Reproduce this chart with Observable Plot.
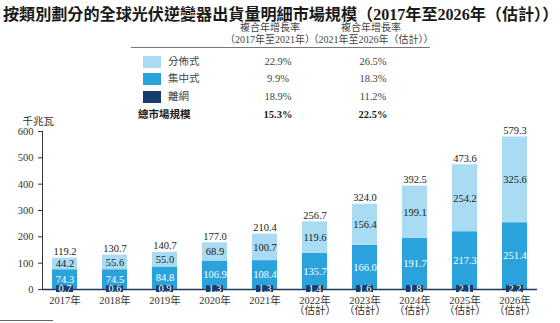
<!DOCTYPE html>
<html>
<head>
<meta charset="utf-8">
<script src="https://cdn.jsdelivr.net/npm/d3@7"></script>
<script src="https://cdn.jsdelivr.net/npm/@observablehq/plot@0.6"></script>
<style>
  html, body { margin: 0; padding: 0; background: #fff; }
  body { width: 560px; height: 323px; overflow: hidden; position: relative;
         font-family: "Liberation Serif", "Noto Sans CJK TC", serif; color: #333; }
  #header { position: relative; height: 110px; }
  .abs { position: absolute; white-space: nowrap; line-height: 1; }
  #title { left: 3px; top: 7px; font-size: 16.1px; font-weight: bold; color: #1a1a1a;
           font-family: "Liberation Serif", "Noto Sans CJK TC", serif; }
  .hdr { font-size: 10px; color: #444; transform: translate(-50%, -50%); }
  .cell { font-size: 10.5px; color: #444; transform: translate(-50%, -50%); }
  .lab { font-size: 10.5px; color: #444; transform: translateY(-50%); }
  .sw { width: 18px; height: 12px; transform: translateY(-50%); }
  .bold { font-weight: bold; color: #1a1a1a; }
</style>
</head>
<body>
<div id="header"></div>
<div id="chart"></div>
<script>
// ---- data ----
const years = ["2017","2018","2019","2020","2021","2022","2023","2024","2025","2026"];
const distributed = [44.2,55.6,55.0,68.9,100.7,119.6,156.4,199.1,254.2,325.6];
const centralized = [74.3,74.5,84.8,106.9,108.4,135.7,166.0,191.7,217.3,251.4];
const offgrid = [0.7,0.6,0.9,1.3,1.3,1.4,1.6,1.8,2.1,2.2];
const totals = [119.2,130.7,140.7,177.0,210.4,256.7,324.0,392.5,473.6,579.3];
const seriesNames = ["離網","集中式","分佈式"];
const seriesColors = ["#173d6b","#2aa3dc","#a9dcf3"];
const yTicks = [0,100,200,300,400,500,600];
const cagrHeaders = [["複合年增長率","（2017年至2021年）"],["複合年增長率","（2021年至2026年（估計））"]];
const legendRows = [
  {name:"分佈式", color:"#a9dcf3", c1:"22.9%", c2:"26.5%"},
  {name:"集中式", color:"#2aa3dc", c1:"9.9%", c2:"18.3%"},
  {name:"離網", color:"#173d6b", c1:"18.9%", c2:"11.2%"},
  {name:"總市場規模", color:null, c1:"15.3%", c2:"22.5%"}
];
const title = "按類別劃分的全球光伏逆變器出貨量明細市場規模（2017年至2026年（估計））";
const unitLabel = "千兆瓦";

// ---- header ----
const header = document.getElementById("header");
function add(cls, text, style) {
  const d = document.createElement("div");
  d.className = "abs " + cls;
  if (text != null) d.textContent = text;
  Object.assign(d.style, style);
  header.appendChild(d);
  return d;
}
add("", title, {}).id = "title";
const colX = [270, 371];
cagrHeaders.forEach((h, i) => {
  add("hdr", h[0], {left: colX[i] + "px", top: "28px"});
  add("hdr", h[1], {left: colX[i] + "px", top: "40px"});
});
add("", null, {left: "131px", top: "47px", width: "299px", borderTop: "1px solid #777"});
const rowY = [62, 79, 97, 115];
legendRows.forEach((r, i) => {
  const y = rowY[i] + "px";
  const bold = r.color ? "" : " bold";
  if (r.color) {
    add("sw", null, {left: "143px", top: y, background: r.color});
    add("lab", r.name, {left: "168px", top: y});
  } else {
    add("lab bold", r.name, {left: "138px", top: y});
  }
  add("cell" + bold, r.c1, {left: "278px", top: y});
  add("cell" + bold, r.c2, {left: "373px", top: y});
});
const foot = document.createElement("div");
foot.className = "abs";
Object.assign(foot.style, {left: "0px", top: "320px", width: "53px", borderTop: "1px solid #666"});
document.body.appendChild(foot);

// ---- chart data tables ----
const rows = [];
years.forEach((y, i) => {
  rows.push({year: y, type: "離網", value: offgrid[i]});
  rows.push({year: y, type: "集中式", value: centralized[i]});
  rows.push({year: y, type: "分佈式", value: distributed[i]});
});
const perYear = years.map((y, i) => ({
  year: y,
  off: offgrid[i],
  cenMid: offgrid[i] + centralized[i] / 2,
  disMid: offgrid[i] + centralized[i] + distributed[i] / 2,
  total: totals[i],
  offTxt: offgrid[i].toFixed(1),
  cenTxt: centralized[i].toFixed(1),
  disTxt: distributed[i].toFixed(1),
  totTxt: totals[i].toFixed(1)
}));
const xLabel = y => (+y >= 2022 ? `${y}年\n（估計）` : `${y}年`);

const chart = Plot.plot({
  width: 560,
  height: 213,
  marginTop: 21,
  marginBottom: 34,
  marginLeft: 42,
  marginRight: 23,
  style: {fontFamily: '"Liberation Serif", "Noto Sans CJK TC", serif', fontSize: "10.5px", color: "#333", background: "#fff"},
  x: {domain: years, paddingInner: 0.5, paddingOuter: 0.2, tickSize: 0, tickPadding: 7, tickFormat: xLabel, label: null},
  y: {domain: [0, 600], ticks: yTicks, tickSize: 4, line: true, label: null},
  color: {domain: seriesNames, range: seriesColors},
  marks: [
    Plot.barY(rows, {x: "year", y: "value", fill: "type"}),
    Plot.ruleY([0], {stroke: "#1e3658", strokeWidth: 1.5}),
    Plot.barY(perYear, {x: "year", y1: 0, y2: "off", fill: "#173d6b", insetTop: -3.5, insetBottom: -3, insetLeft: 4, insetRight: 4}),
    Plot.text(perYear, {x: "year", y: 0, text: "offTxt", fill: "#fff", dy: -0.5}),
    Plot.text(perYear, {x: "year", y: "cenMid", text: "cenTxt", fill: "#fff"}),
    Plot.text(perYear, {x: "year", y: "disMid", text: "disTxt", fill: "#222"}),
    Plot.text(perYear, {x: "year", y: "total", text: "totTxt", fill: "#222", lineAnchor: "bottom", dy: -3}),
    Plot.text([unitLabel], {frameAnchor: "top-left", text: d => d, dx: -20, dy: -14, textAnchor: "start", fill: "#333", fontSize: 10.5})
  ]
});
document.getElementById("chart").appendChild(chart);
</script>
</body>
</html>
